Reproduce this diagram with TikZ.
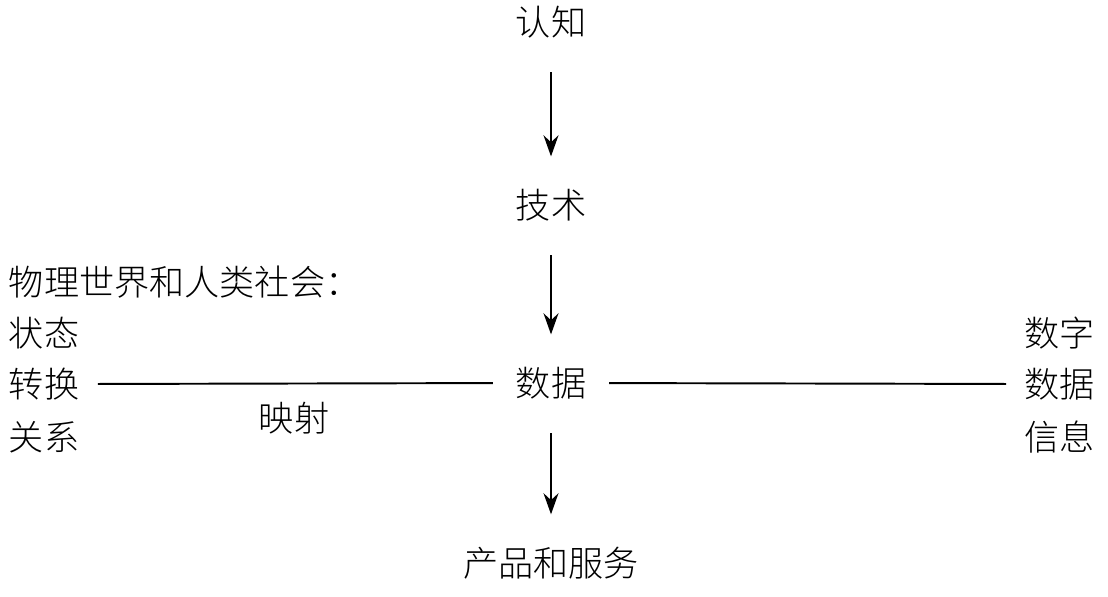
\documentclass[tikz,border=0pt]{standalone}
\usepackage{fontspec}
\newfontfamily\cjk{Noto Sans CJK SC Light}
\usetikzlibrary{arrows.meta}

\begin{document}
\begin{tikzpicture}[x=0.02cm,y=-0.02cm,line width=1.1pt,
  every node/.style={font=\cjk\fontsize{20}{24}\selectfont,inner sep=0pt},
  flow/.style={-{Stealth[length=12pt,width=8.5pt]},shorten <=19pt,shorten >=18pt},
  link/.style={shorten <=10pt,shorten >=12.5pt}]
 \useasboundingbox(0,0) rectangle (1108,596);
 \node (cognition) at (551,22) {认知};
 \node (tech) at (551,205) {技术};
 \node (data) at (551,383) {数据};
 \node (product) at (551,563) {产品和服务};
 \node[anchor=west] (world) at (8,282) {物理世界和人类社会：};
 \node[anchor=west] (state) at (8,333) {状态};
 \node[anchor=west] (trans) at (8,384) {转换};
 \node[anchor=west] (rel) at (8,437) {关系};
 \node (mapping) at (294,418) {映射};
 \node[anchor=east] (digit) at (1096,333) {数字};
 \node[anchor=east] (data2) at (1096,384) {数据};
 \node[anchor=east] (info) at (1096,437) {信息};
 \draw[flow](cognition)--(tech);
 \draw[flow](tech)--(data);
 \draw[flow](data)--(product);
 \draw[link](trans.east)--(data.west);
 \draw[link,shorten <=12.5pt,shorten >=10pt](data.east)--(data2.west);
\end{tikzpicture}
\end{document}
